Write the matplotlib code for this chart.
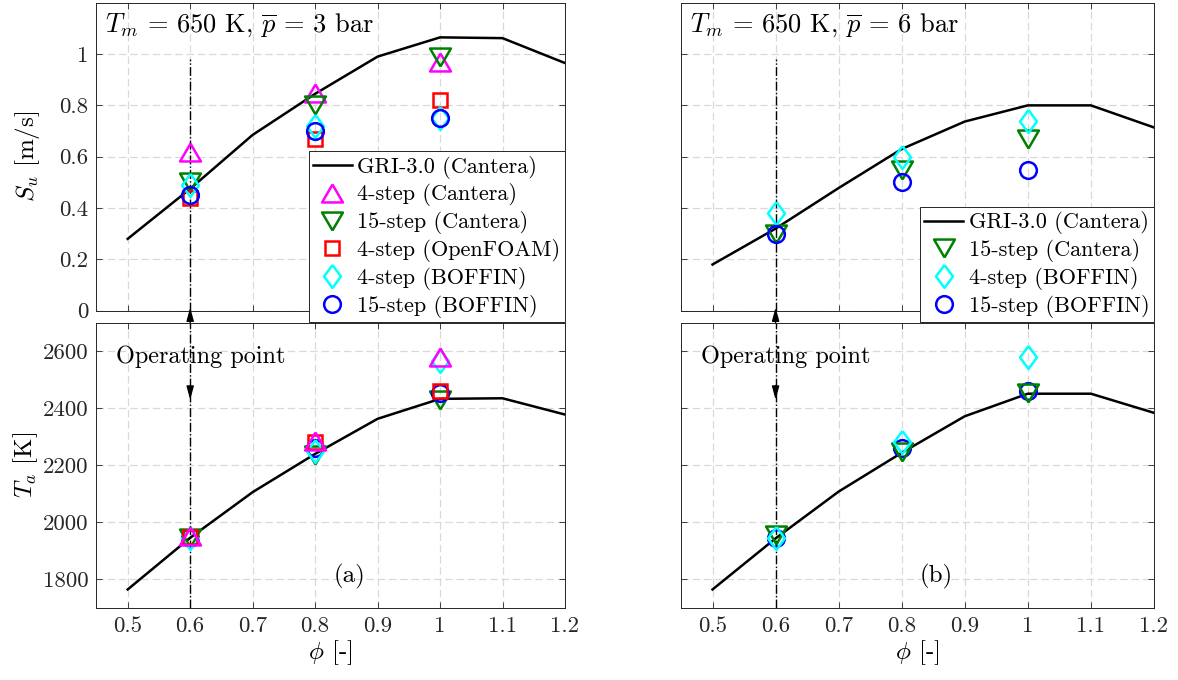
import numpy as np
import matplotlib
matplotlib.use("Agg")
import matplotlib.pyplot as plt

plt.rcParams['font.family'] = ['cmr10', 'DejaVu Serif']
plt.rcParams['mathtext.fontset'] = 'cm'
plt.rcParams['axes.formatter.use_mathtext'] = True
plt.rcParams['axes.unicode_minus'] = False

# equivalence ratio
phi_gri = [0.5, 0.6, 0.7, 0.8, 0.9, 1.0, 1.1, 1.2]
phi_pts = [0.6, 0.8, 1.0]

# (a) 3 bar -- laminar flame speed [m/s]
su_gri_3 = [0.28, 0.475, 0.685, 0.845, 0.99, 1.065, 1.062, 0.965]
su_4c_3 = [0.62, 0.85, 0.97]
su_15c_3 = [0.50, 0.80, 0.99]
su_4of_3 = [0.44, 0.67, 0.82]
su_4b_3 = [0.49, 0.72, 0.75]
su_15b_3 = [0.45, 0.70, 0.75]

# (a) 3 bar -- adiabatic temperature [K]
ta_gri_3 = [1765, 1946, 2106, 2240, 2363, 2433, 2435, 2378]
ta_4c_3 = [1952, 2285, 2580]
ta_15c_3 = [1945, 2235, 2430]
ta_4of_3 = [1950, 2280, 2460]
ta_4b_3 = [1945, 2250, 2565]
ta_15b_3 = [1945, 2260, 2452]

# (b) 6 bar
su_gri_6 = [0.18, 0.32, 0.478, 0.63, 0.737, 0.80, 0.80, 0.714]
su_15c_6 = [0.30, 0.55, 0.67]
su_4b_6 = [0.38, 0.60, 0.74]
su_15b_6 = [0.30, 0.50, 0.55]

ta_gri_6 = [1765, 1944, 2108, 2244, 2372, 2451, 2451, 2384]
ta_15c_6 = [1955, 2245, 2455]
ta_4b_6 = [1946, 2280, 2580]
ta_15b_6 = [1945, 2260, 2460]

xticks = [0.5, 0.6, 0.7, 0.8, 0.9, 1.0, 1.1, 1.2]
xticklabels = ['0.5', '0.6', '0.7', '0.8', '0.9', '1', '1.1', '1.2']
su_ticks = [0, 0.2, 0.4, 0.6, 0.8, 1.0]
su_ticklabels = ['0', '0.2', '0.4', '0.6', '0.8', '1']
ta_ticks = [1800, 2000, 2200, 2400, 2600]
ta_ticklabels = ['1800', '2000', '2200', '2400', '2600']

# marker shapes (MATLAB-like proportions)
tri_up = [(0, 0.86), (-1, -0.86), (1, -0.86), (0, 0.86)]
tri_dn = [(0, -0.86), (-1, 0.86), (1, 0.86), (0, -0.86)]
diam = [(0, 1), (0.74, 0), (0, -1), (-0.74, 0), (0, 1)]

styles = {
    '4c': dict(marker=tri_up, ms=15, color='#ff00ff', label='4-step (Cantera)'),
    '15c': dict(marker=tri_dn, ms=15, color='#008000', label='15-step (Cantera)'),
    '4of': dict(marker='s', ms=10.5, color='#ff0000', label='4-step (OpenFOAM)'),
    '4b': dict(marker=diam, ms=16.5, color='#00ffff', label='4-step (BOFFIN)'),
    '15b': dict(marker='o', ms=12, color='#0000ff', label='15-step (BOFFIN)'),
}

edge = '#262626'
fs_tick = 16.5

fig = plt.figure(figsize=(11.78, 6.8), dpi=100)
ax_a1 = fig.add_axes([0.0819, 0.5431, 0.3977, 0.4529])
ax_a2 = fig.add_axes([0.0819, 0.1059, 0.3977, 0.4196])
ax_b1 = fig.add_axes([0.5781, 0.5431, 0.4015, 0.4529])
ax_b2 = fig.add_axes([0.5781, 0.1059, 0.4015, 0.4196])


def style_axes(ax):
    ax.set_xlim(0.45, 1.2)
    ax.set_xticks(xticks)
    ax.set_xticklabels(xticklabels)
    ax.grid(True, color='#d9d9d9', linestyle=(0, (6, 3)), linewidth=0.9)
    ax.set_axisbelow(True)
    ax.tick_params(direction='in', top=True, right=True, length=4,
                   width=0.6, colors=edge, labelsize=fs_tick, pad=6)
    for s in ax.spines.values():
        s.set_color(edge)
        s.set_linewidth(0.7)


def pts(ax, vals, key):
    st = styles[key]
    ax.plot(phi_pts, vals, linestyle='none', marker=st['marker'],
            ms=st['ms'], mfc='none', mec=st['color'], mew=1.8,
            label=st['label'], zorder=4)


for ax in (ax_a1, ax_a2, ax_b1, ax_b2):
    style_axes(ax)

# top panels
for ax in (ax_a1, ax_b1):
    ax.set_ylim(0, 1.2)
    ax.set_yticks(su_ticks)
    ax.set_xticklabels([])
    ax.plot([0.6, 0.6], [0, 0.98], color='k', linestyle='-.', lw=1.0, zorder=2)

for ax in (ax_a2, ax_b2):
    ax.set_ylim(1700, 2700)
    ax.set_yticks(ta_ticks)
    ax.plot([0.6, 0.6], [1700, 2700], color='k', linestyle='-.', lw=1.0, zorder=2)
    ax.set_xlabel(r'$\phi$ [-]', fontsize=18, labelpad=2)

ax_a1.set_yticklabels(su_ticklabels)
ax_a2.set_yticklabels(ta_ticklabels)
ax_b1.set_yticklabels([])
ax_b2.set_yticklabels([])
ax_a1.set_ylabel(r'$S_u$ [m/s]', fontsize=18, labelpad=12)
ax_a2.set_ylabel(r'$T_a$ [K]', fontsize=18, labelpad=2)

# (a) 3 bar
ax_a1.plot(phi_gri, su_gri_3, color='k', lw=1.8, label='GRI-3.0 (Cantera)', zorder=3)
pts(ax_a1, su_4c_3, '4c')
pts(ax_a1, su_15c_3, '15c')
pts(ax_a1, su_4of_3, '4of')
pts(ax_a1, su_4b_3, '4b')
pts(ax_a1, su_15b_3, '15b')

ax_a2.plot(phi_gri, ta_gri_3, color='k', lw=1.8, zorder=3)
pts(ax_a2, ta_15c_3, '15c')
pts(ax_a2, ta_15b_3, '15b')
pts(ax_a2, ta_4b_3, '4b')
pts(ax_a2, ta_4of_3, '4of')
pts(ax_a2, ta_4c_3, '4c')

# (b) 6 bar
ax_b1.plot(phi_gri, su_gri_6, color='k', lw=1.8, label='GRI-3.0 (Cantera)', zorder=3)
pts(ax_b1, su_15c_6, '15c')
pts(ax_b1, su_4b_6, '4b')
pts(ax_b1, su_15b_6, '15b')

ax_b2.plot(phi_gri, ta_gri_6, color='k', lw=1.8, zorder=3)
pts(ax_b2, ta_15b_6, '15b')
pts(ax_b2, ta_15c_6, '15c')
pts(ax_b2, ta_4b_6, '4b')

leg_kw = dict(fontsize=16, handlelength=1.75, handletextpad=0.25,
              labelspacing=0.22, borderpad=0.2, borderaxespad=0,
              fancybox=False, framealpha=1, edgecolor=edge)
leg = ax_a1.legend(loc='lower right', bbox_to_anchor=(1.0, -0.038), **leg_kw)
leg.get_frame().set_linewidth(0.7)
leg.set_zorder(10)
leg = ax_b1.legend(loc='lower right', bbox_to_anchor=(1.0, -0.038), **leg_kw)
leg.get_frame().set_linewidth(0.7)
leg.set_zorder(10)

ax_a1.text(0.464, 1.112, r'$T_m$ = 650 K, $\overline{p}$ = 3 bar', fontsize=19,
           ha='left', va='center')
ax_b1.text(0.464, 1.112, r'$T_m$ = 650 K, $\overline{p}$ = 6 bar', fontsize=19,
           ha='left', va='center')

for ax, lab in ((ax_a2, '(a)'), (ax_b2, '(b)')):
    ax.text(0.482, 2580, 'Operating point', fontsize=17.5, ha='left', va='center')
    ax.text(0.855, 1810, lab, fontsize=18, ha='center', va='center')
    ax.annotate('', xy=(0.6, 2753), xytext=(0.6, 2700),
                arrowprops=dict(arrowstyle='-|>,head_length=0.8,head_width=0.22',
                                color='k', lw=1.0, shrinkA=0, shrinkB=0),
                annotation_clip=False)
    ax.annotate('', xy=(0.6, 2430), xytext=(0.6, 2480),
                arrowprops=dict(arrowstyle='-|>,head_length=0.8,head_width=0.22',
                                color='k', lw=1.0, shrinkA=0, shrinkB=0),
                annotation_clip=False)

fig.savefig('out.png', dpi=100)
